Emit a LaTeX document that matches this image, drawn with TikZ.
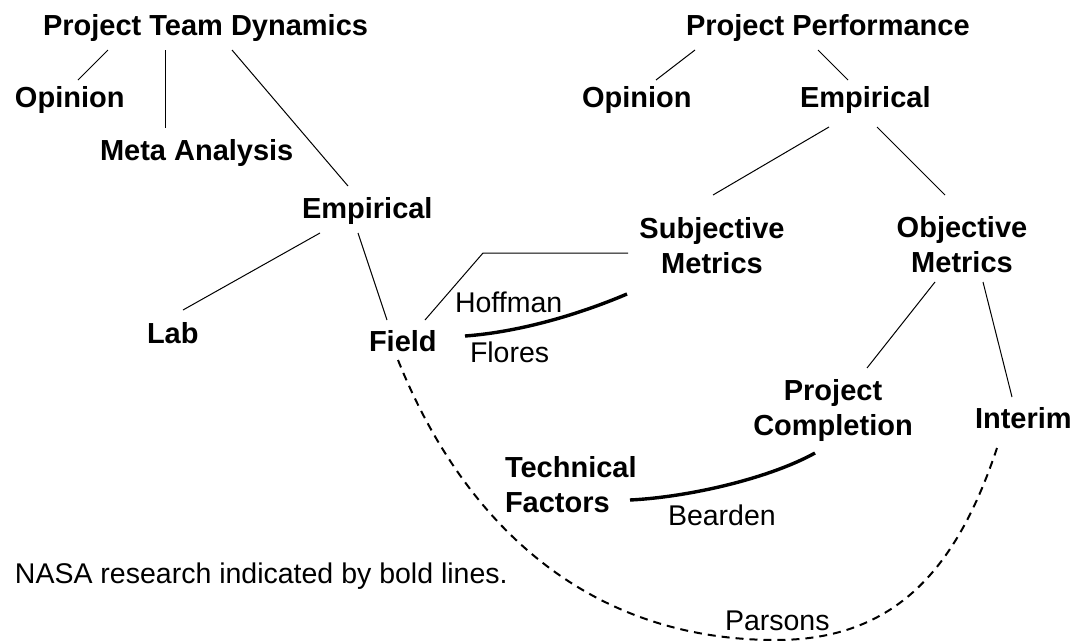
\documentclass[tikz,border=0pt]{standalone}
\usepackage{fontspec}
\setmainfont{Liberation Sans}
\begin{document}
\begin{tikzpicture}[x=1pt,y=-1pt,
  lbl/.style={inner sep=0pt,outer sep=0pt,anchor=base west,font=\fontsize{29}{35}\selectfont\bfseries},
  lblc/.style={inner sep=0pt,outer sep=0pt,anchor=base,align=center,font=\fontsize{29}{35}\selectfont\bfseries},
  lbll/.style={inner sep=0pt,outer sep=0pt,anchor=base west,align=left,font=\fontsize{29}{35}\selectfont\bfseries},
  cite/.style={inner sep=0pt,outer sep=0pt,anchor=base west,font=\fontsize{28.5}{34}\selectfont},
  link/.style={line width=1pt},
  nasa/.style={line width=3.4pt},
  parsonsline/.style={line width=2pt,dash pattern=on 8pt off 6pt}]
\useasboundingbox (0,0) rectangle (1077,643);
% left tree
\node[lbl] (ptd) at (43,35) {Project Team Dynamics};
\node[lbl] (opl) at (15,107) {Opinion};
\node[lbl] (meta) at (100,160) {Meta Analysis};
\node[lbl] (empl) at (302,218) {Empirical};
\node[lbl] (lab) at (147,343) {Lab};
\node[lbl] (field) at (369,351) {Field};
% right tree
\node[lbl] (pp) at (686,35) {Project Performance};
\node[lbl] (opr) at (582,107) {Opinion};
\node[lbl] (empr) at (800,107) {Empirical};
\node[lblc] (subj) at (712,273) {Subjective\\Metrics};
\node[lblc] (obj) at (962,272) {Objective\\Metrics};
\node[lblc] (pc) at (833,435) {Project\\Completion};
\node[lbl] (interim) at (975,428) {Interim};
\node[lbll] (tech) at (505,512) {Technical\\Factors};
% citations
\node[cite] (hoff) at (455,312) {Hoffman};
\node[cite] (flores) at (470,362) {Flores};
\node[cite] (bearden) at (668,525) {Bearden};
\node[cite] (parsons) at (725,630) {Parsons};
\node[cite] (note) at (15,583) {NASA research indicated by bold lines.};
% connector end points
\coordinate (ptd-a) at (108,50);  \coordinate (opl-a) at (78,80);
\coordinate (ptd-b) at (165,50);  \coordinate (meta-a) at (165,128);
\coordinate (ptd-c) at (232,50);  \coordinate (empl-a) at (348,186);
\coordinate (empl-b) at (320,233); \coordinate (lab-a) at (183,310);
\coordinate (empl-c) at (358,233); \coordinate (field-a) at (387,320);
\coordinate (field-b) at (425,320); \coordinate (bend) at (483,253); \coordinate (subj-a) at (628,253);
\coordinate (pp-a) at (695,50);  \coordinate (opr-a) at (656,80);
\coordinate (pp-b) at (818,50);  \coordinate (empr-a) at (848,80);
\coordinate (empr-b) at (829,127); \coordinate (subj-b) at (713,195);
\coordinate (empr-c) at (877,127); \coordinate (obj-a) at (945,195);
\coordinate (obj-b) at (935,282); \coordinate (pc-a) at (867,368);
\coordinate (obj-c) at (983,282); \coordinate (interim-a) at (1012,397);
\coordinate (field-c) at (465,336); \coordinate (subj-c) at (627,294);
\coordinate (tech-a) at (630,500); \coordinate (pc-b) at (815,453);
\coordinate (field-d) at (398,360); \coordinate (parsons-a) at (776,640); \coordinate (interim-b) at (997,448);
% thin connectors
\draw[link] (ptd-a) -- (opl-a);
\draw[link] (ptd-b) -- (meta-a);
\draw[link] (ptd-c) -- (empl-a);
\draw[link] (empl-b) -- (lab-a);
\draw[link] (empl-c) -- (field-a);
\draw[link] (field-b) -- (bend) -- (subj-a);
\draw[link] (pp-a) -- (opr-a);
\draw[link] (pp-b) -- (empr-a);
\draw[link] (empr-b) -- (subj-b);
\draw[link] (empr-c) -- (obj-a);
\draw[link] (obj-b) -- (pc-a);
\draw[link] (obj-c) -- (interim-a);
% NASA research (bold)
\draw[nasa] (field-c) .. controls (520,332) and (580,314) .. (subj-c);
\draw[nasa] (tech-a) .. controls (690,497) and (770,478) .. (pc-b);
% Parsons (dashed)
\draw[parsonsline] (field-d) .. controls (458,510) and (576,640) .. (parsons-a)
  .. controls (896,640) and (957,568) .. (interim-b);
\end{tikzpicture}
\end{document}
